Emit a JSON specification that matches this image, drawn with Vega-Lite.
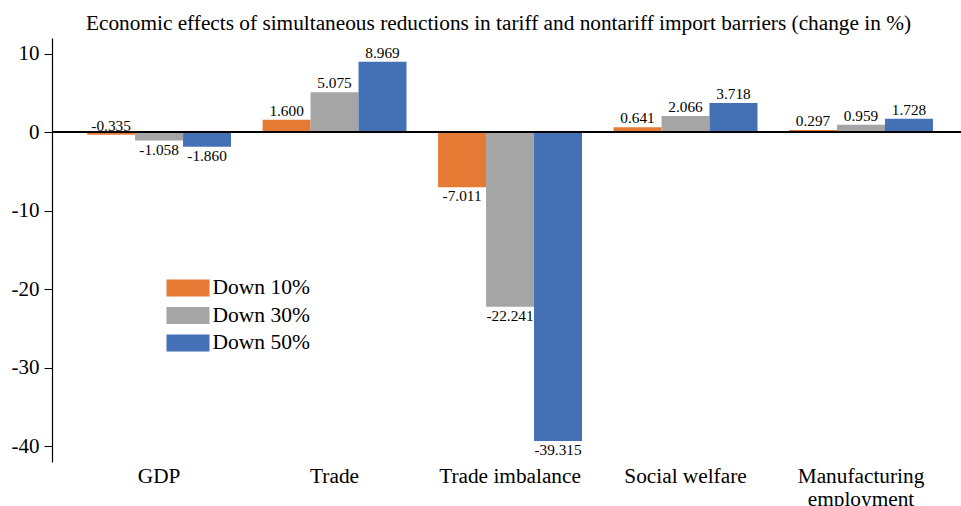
{
  "$schema": "https://vega.github.io/schema/vega-lite/v6.json",
  "autosize": "none",
  "width": 909,
  "height": 424,
  "padding": {"left": 52, "top": 38, "right": 0, "bottom": 44},
  "background": "white",
  "config": {
    "font": "'Liberation Serif', 'Times New Roman', serif",
    "view": {"stroke": null},
    "locale": {"number": {"decimal": ".", "thousands": ",", "grouping": [3], "currency": ["$", ""], "minus": "-"}}
  },
  "title": {
    "text": "Economic effects of simultaneous reductions in tariff and nontariff import barriers (change in %)",
    "font": "'Liberation Serif', 'Times New Roman', serif",
    "fontSize": 21.3,
    "fontWeight": "normal",
    "color": "black",
    "anchor": "middle",
    "dx": -8,
    "offset": 4
  },
  "data": {
    "values": [
      {"category": "GDP", "series": "Down 10%", "value": -0.335},
      {"category": "GDP", "series": "Down 30%", "value": -1.058},
      {"category": "GDP", "series": "Down 50%", "value": -1.860},
      {"category": "Trade", "series": "Down 10%", "value": 1.600},
      {"category": "Trade", "series": "Down 30%", "value": 5.075},
      {"category": "Trade", "series": "Down 50%", "value": 8.969},
      {"category": "Trade imbalance", "series": "Down 10%", "value": -7.011},
      {"category": "Trade imbalance", "series": "Down 30%", "value": -22.241},
      {"category": "Trade imbalance", "series": "Down 50%", "value": -39.315},
      {"category": "Social welfare", "series": "Down 10%", "value": 0.641},
      {"category": "Social welfare", "series": "Down 30%", "value": 2.066},
      {"category": "Social welfare", "series": "Down 50%", "value": 3.718},
      {"category": "Manufacturing employment", "series": "Down 10%", "value": 0.297},
      {"category": "Manufacturing employment", "series": "Down 30%", "value": 0.959},
      {"category": "Manufacturing employment", "series": "Down 50%", "value": 1.728}
    ]
  },
  "encoding": {
    "x": {
      "field": "category",
      "type": "nominal",
      "sort": null,
      "scale": {"paddingInner": 0.18, "paddingOuter": 0.18, "align": 0.556},
      "axis": {
        "title": null,
        "orient": "bottom",
        "domain": false,
        "ticks": false,
        "labelAngle": 0,
        "labelFont": "'Liberation Serif', 'Times New Roman', serif",
        "labelFontSize": 21.3,
        "labelColor": "black",
        "labelPadding": 3,
        "labelLineHeight": 23,
        "labelExpr": "datum.value == 'Manufacturing employment' ? ['Manufacturing', 'employment'] : datum.value"
      }
    },
    "xOffset": {"field": "series", "type": "nominal", "sort": null},
    "y": {
      "field": "value",
      "type": "quantitative",
      "scale": {"domain": [-42, 12], "nice": false},
      "axis": {
        "title": null,
        "grid": false,
        "values": [-40, -30, -20, -10, 0, 10],
        "domainColor": "black",
        "domainWidth": 1.2,
        "tickColor": "black",
        "tickSize": 8,
        "labelFont": "'Liberation Serif', 'Times New Roman', serif",
        "labelFontSize": 21,
        "labelColor": "black",
        "labelPadding": 5
      }
    }
  },
  "layer": [
    {
      "mark": {"type": "bar"},
      "encoding": {
        "color": {
          "field": "series",
          "type": "nominal",
          "scale": {"domain": ["Down 10%", "Down 30%", "Down 50%"], "range": ["#E57A35", "#A5A5A5", "#4470B6"]},
          "legend": {
            "title": null,
            "orient": "none",
            "legendX": 125,
            "legendY": 239,
            "symbolType": "M-2,-0.8H2V0.8H-2Z",
            "symbolSize": 462,
            "symbolStrokeWidth": 0,
            "symbolOpacity": 1,
            "labelFont": "'Liberation Serif', 'Times New Roman', serif",
            "labelFontSize": 21.5,
            "labelColor": "black",
            "labelOffset": 13.5,
            "rowPadding": 5.5,
            "padding": 0
          }
        }
      }
    },
    {
      "transform": [{"filter": "datum.value >= -0.5"}],
      "mark": {"type": "text", "baseline": "bottom", "dy": -1, "fontSize": 15.3, "font": "'Liberation Serif', 'Times New Roman', serif", "color": "black"},
      "encoding": {
        "y": {"field": "value", "type": "quantitative", "aggregate": null},
        "text": {"field": "value", "type": "quantitative", "format": ".3f"}
      }
    },
    {
      "transform": [{"filter": "datum.value < -0.5"}],
      "mark": {"type": "text", "baseline": "top", "dy": 2, "fontSize": 15.3, "font": "'Liberation Serif', 'Times New Roman', serif", "color": "black"},
      "encoding": {"text": {"field": "value", "type": "quantitative", "format": ".3f"}}
    },
    {
      "mark": {"type": "rule", "color": "black", "strokeWidth": 1.2},
      "encoding": {"y": {"datum": 0}, "x": null, "xOffset": null}
    }
  ]
}
